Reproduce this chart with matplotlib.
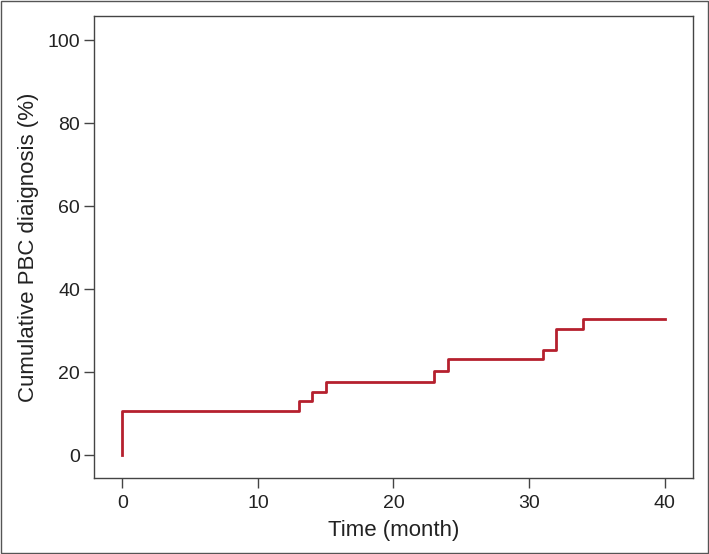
import matplotlib
matplotlib.use("Agg")
import matplotlib.pyplot as plt
from matplotlib.patches import Rectangle

# event times (month) and cumulative PBC diagnosis (%)
times = [0, 0, 13, 14, 15, 23, 24, 31, 32, 34, 40]
cum_pct = [0, 10.7, 13.0, 15.3, 17.7, 20.3, 23.1, 25.4, 30.3, 32.8, 32.8]

x_ticks = [0, 10, 20, 30, 40]
y_ticks = [0, 20, 40, 60, 80, 100]

plt.rcParams['font.family'] = ['Liberation Sans', 'DejaVu Sans']

fig = plt.figure(figsize=(7.09, 5.54), dpi=100)
ax = fig.add_axes([0.1326, 0.1372, 0.8448, 0.8339])

ax.step(times, cum_pct, where='post', color='#B5202E', linewidth=2.0)

ax.set_xlim(-2.1, 42.1)
ax.set_ylim(-5.5, 105.8)
ax.set_xticks(x_ticks)
ax.set_yticks(y_ticks)
ax.tick_params(direction='out', length=7, width=1.0, color='#444444',
               labelsize=14, labelcolor='#222222')
ax.tick_params(axis='y', pad=3)
ax.tick_params(axis='x', pad=5)
for s in ax.spines.values():
    s.set_color('#444444')
    s.set_linewidth(1.0)

ax.set_xlabel('Time (month)', fontsize=16, color='#222222', labelpad=6)
ax.set_ylabel('Cumulative PBC diaignosis (%)', fontsize=16, color='#222222', labelpad=6)

# thin frame around the whole figure
fig.patches.append(Rectangle((0.002, 0.002), 0.996, 0.996, transform=fig.transFigure,
                             fill=False, edgecolor='#555555', linewidth=1.0))

fig.savefig('out.png', dpi=100)
